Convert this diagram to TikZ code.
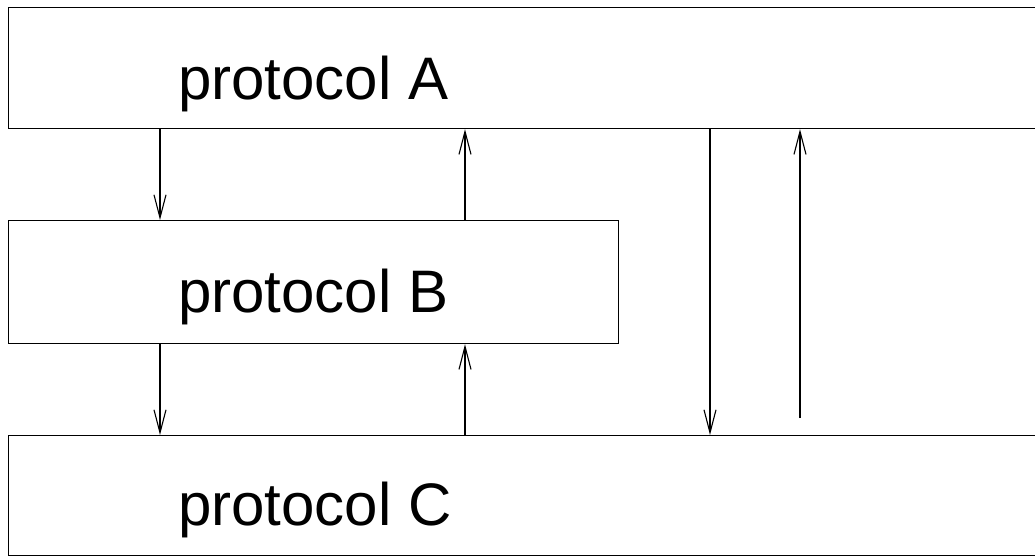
\documentclass[tikz,border=0pt]{standalone}
\usepackage{fontspec}
\setmainfont{Liberation Sans}
\usetikzlibrary{arrows.meta}
\begin{document}
\begin{tikzpicture}[x=1pt,y=-1pt,
  layer/.style={draw=black, line width=1.2pt, rectangle, inner sep=0pt, anchor=north west},
  title/.style={anchor=base west, inner sep=0pt, font=\fontsize{60}{70}\selectfont},
  flow/.style={draw=black, line width=1.1pt, -{Straight Barb[length=23pt,width=12pt,line width=1.1pt]}}]
  \useasboundingbox (0,0) rectangle (1035,556);
  \clip (0,0) rectangle (1035,556);
  % protocol layers (A and C run past the right border)
  \node[layer, minimum width=1050pt, minimum height=121pt] (A) at (8,7) {};
  \node[layer, minimum width=610pt, minimum height=123pt] (B) at (8,220) {};
  \node[layer, minimum width=1050pt, minimum height=120pt] (C) at (8,435) {};
  \node[title] (tA) at (178,100) {protocol A};
  \node[title] (tB) at (178,312) {protocol B};
  \node[title] (tC) at (178,525) {protocol C};
  % columns of the connectors
  \coordinate (c1) at (160,0);
  \coordinate (c2) at (465,0);
  \coordinate (c3) at (710,0);
  \coordinate (c4) at (800,0);
  \coordinate (up4) at (800,418);
  % A <-> B
  \draw[flow] (A.south -| c1) -- (B.north -| c1);
  \draw[flow] (B.north -| c2) -- (A.south -| c2);
  % B <-> C
  \draw[flow] (B.south -| c1) -- (C.north -| c1);
  \draw[flow] (C.north -| c2) -- (B.south -| c2);
  % A <-> C directly
  \draw[flow] (A.south -| c3) -- (C.north -| c3);
  \draw[flow] (up4) -- (A.south -| c4);
\end{tikzpicture}
\end{document}
